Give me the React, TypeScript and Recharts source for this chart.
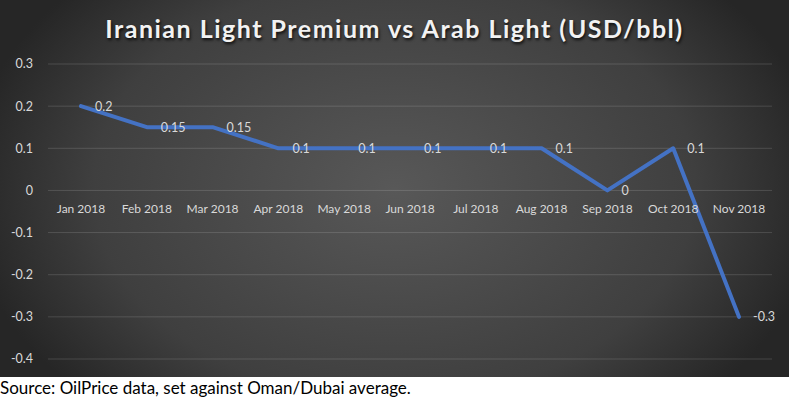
import { CartesianGrid, LabelList, Line, LineChart, ReferenceDot, XAxis, YAxis } from "recharts";

const months = [
  "Jan 2018",
  "Feb 2018",
  "Mar 2018",
  "Apr 2018",
  "May 2018",
  "Jun 2018",
  "Jul 2018",
  "Aug 2018",
  "Sep 2018",
  "Oct 2018",
  "Nov 2018",
];
const premium = [0.2, 0.15, 0.15, 0.1, 0.1, 0.1, 0.1, 0.1, 0, 0.1, -0.3];
const yTicks = [0.3, 0.2, 0.1, 0, -0.1, -0.2, -0.3, -0.4];

const data = months.map((month, i) => ({ month, premium: premium[i] }));

const FONT = "Lato, 'Open Sans', sans-serif";
const LABEL = "#d9d9d9";

const fmt = (v: number) => String(Number(v.toFixed(2)));

// value labels sit just right of each point, vertically centred on it
const ValueLabel = (props: any) => {
  const { x, y, value } = props;
  return (
    <text x={x + 14} y={y} dy="0.35em" fill={LABEL} fontSize={12.5} fontFamily={FONT}>
      {fmt(value)}
    </text>
  );
};

// Excel puts the category labels where the axis crosses zero
const MonthLabel = (label: string) => (props: any) => (
  <text
    x={props.cx}
    y={props.cy + 18}
    dy="0.35em"
    textAnchor="middle"
    fill={LABEL}
    fontSize={12}
    fontFamily={FONT}
  >
    {label}
  </text>
);

export default function App() {
  return (
    <div style={{ width: 791, height: 399, position: "relative", background: "#fff" }}>
      <style>{"body{margin:0}"}</style>
      <div
        style={{
          position: "absolute",
          left: 0,
          top: 0,
          width: 789,
          height: 377,
          background:
            "radial-gradient(ellipse 430px 300px at 50% 50%, #585858 0%, #3f3f3f 70%, #262626 100%)",
        }}
      >
        <div
          style={{
            position: "absolute",
            left: 0,
            top: 13,
            width: 789,
            textAlign: "center",
            color: "#f2f2f2",
            fontFamily: FONT,
            fontWeight: 700,
            fontSize: 25,
            letterSpacing: 1.5,
            textShadow: "1px 2px 3px rgba(0,0,0,0.8)",
          }}
        >
          Iranian Light Premium vs Arab Light (USD/bbl)
        </div>
        <LineChart
          width={789}
          height={377}
          data={data}
          margin={{ top: 64, right: 17, bottom: 18, left: 0 }}
          style={{ fontFamily: FONT, position: "absolute", left: 0, top: 0 }}
        >
          <CartesianGrid vertical={false} stroke="rgba(255,255,255,0.14)" />
          <XAxis dataKey="month" hide padding={{ left: 33, right: 33 }} />
          <YAxis
            width={48}
            domain={[-0.4, 0.3]}
            ticks={yTicks}
            interval={0}
            axisLine={false}
            tickLine={false}
            tickSize={0}
            tickMargin={15}
            tickFormatter={fmt}
            tick={{ fill: LABEL, fontSize: 12.5, fontFamily: FONT }}
          />
          {months.map((m) => (
            <ReferenceDot key={m} x={m} y={0} r={0} shape={MonthLabel(m)} />
          ))}
          <Line
            type="linear"
            dataKey="premium"
            stroke="#4472C4"
            strokeWidth={4}
            strokeLinejoin="round"
            strokeLinecap="round"
            dot={false}
            isAnimationActive={false}
          >
            <LabelList dataKey="premium" content={ValueLabel} />
          </Line>
        </LineChart>
      </div>
      <div
        style={{
          position: "absolute",
          left: 0,
          top: 376,
          fontFamily: FONT,
          fontSize: 17,
          color: "#000",
          lineHeight: "23px",
        }}
      >
        Source: OilPrice data, set against Oman/Dubai average.
      </div>
    </div>
  );
}
